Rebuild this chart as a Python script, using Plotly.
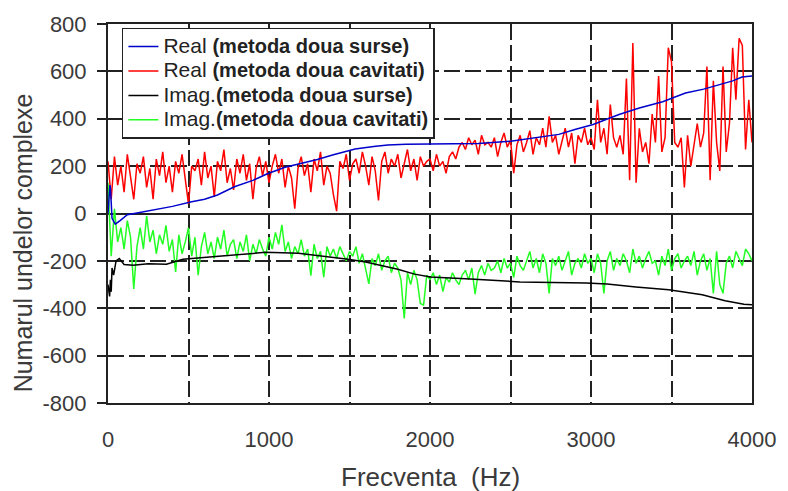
import plotly.graph_objects as go

# ---------------- data ----------------
freq_cav = [i * 20 for i in range(201)]

real_cav = [
    220, 60, 240, 120, 200, 90, 250, 150, 60, 210,
    170, 240, 110, 190, 60, 230, 160, 260, 130, 200,
    90, 220, 170, 250, 140, 40, 200, 180, 230, 120,
    260, 150, 200, 70, 220, 180, 270, 130, 190, 100,
    230, 170, 250, 140, 210, 60, 190, 240, 160, 220,
    130, 200, 250, 170, 230, 110, 200, 150, 20, 190,
    240, 160, 210, 90, 230, 180, 260, 120, 200, 170,
    80, 10, 220, 190, 250, 140, 210, 230, 170, 260,
    200, 120, 240, 180, 55, 220, 260, 170, 230, 200,
    250, 150, 210, 270, 180, 230, 140, 240, 200, 220,
    230, 180, 250, 200, 220, 170, 240, 260, 230, 280,
    300, 270, 320, 290, 310, 250, 330, 290, 300, 280,
    320, 240, 300, 340, 280, 310, 170, 290, 330, 260,
    300, 350, 250, 320, 290, 360, 280, 410, 300, 330,
    250, 310, 360, 280, 340, 210, 330, 300, 360, 290,
    320, 270, 480, 300, 360, 250, 460, 320, 280, 330,
    250, 570, 140, 720, 130, 360, 260, 300, 210, 420,
    300, 580, 260, 320, 700, 640, 300, 280, 320, 110,
    330, 200, 300, 380, 280, 340, 620, 140, 560, 300,
    180, 620, 260, 380, 700, 480, 740, 710, 270, 480,
    300,
]

imag_cav = [
    130, -180, 20, -120, -60, -150, -30, -100, -318, -140,
    -60, -150, -10, -120, -70, -170, -90, -130, -50, -160,
    -110, -247, -90, -170, -120, -60, -180, -100, -260, -140,
    -80, -170, -120, -190, -100, -150, -70, -180, -130, -110,
    -190, -120, -160, -90, -200, -130, -170, -110, -150, -180,
    -100, -150, -80, -130, -48, -160, -120, -190, -140, -170,
    -110, -180, -150, -262, -130, -190, -160, -269, -140, -180,
    -150, -190, -140, -170, -200, -160, -180, -140, -210, -170,
    -230, -297, -190, -220, -170, -240, -200, -180, -250, -210,
    -230, -280, -443, -250, -300, -240, -280, -380, -387, -260,
    -280, -250, -300, -260, -330, -270, -290, -250, -280, -300,
    -260, -240, -280, -230, -340, -250, -220, -260, -210, -240,
    -230, -200, -250, -190, -230, -210, -270, -180, -220, -240,
    -200, -160, -230, -190, -250, -170, -210, -337, -190, -220,
    -180, -240, -200, -160, -260, -210, -190, -230, -170, -210,
    -190, -250, -170, -210, -337, -200, -160, -240, -190, -220,
    -170, -200, -250, -150, -210, -180, -230, -190, -160, -210,
    -200, -260, -180, -220, -150, -240, -190, -170, -230, -200,
    -180, -220, -160, -260, -200, -170, -240, -190, -337, -160,
    -300, -337, -210, -180, -230, -160, -190, -220, -150, -170,
    -200,
]

freq_real_src = [0, 12, 15, 25, 45, 75, 120, 180, 250, 300, 400, 520, 600, 680,
                 785, 900, 990, 1100, 1200, 1300, 1400, 1535, 1650, 1738, 1850,
                 2000, 2150, 2300, 2500, 2650, 2800, 2900, 3013, 3174, 3300,
                 3445, 3587, 3700, 3791, 3880, 3938, 4000]
real_src = [0, 120, 110, -20, -45, -30, -5, 2, 10, 16, 30, 50, 60, 78,
            113, 140, 168, 195, 210, 228, 248, 272, 283, 289, 292,
            293, 294, 296, 305, 318, 334, 355, 376, 418, 445,
            472, 509, 525, 542, 560, 576, 580]

freq_imag_src = [0, 10, 15, 20, 25, 35, 50, 70, 100, 155, 250, 363, 465, 600,
                 770, 978, 1183, 1350, 1491, 1600, 1695, 1800, 1904, 2003,
                 2250, 2558, 2970, 3100, 3279, 3483, 3691, 3833, 3950, 4000]
imag_src = [-300, -350, -280, -330, -230, -260, -200, -190, -215, -218, -212,
            -214, -193, -185, -177, -164, -168, -180, -193, -205, -218, -235,
            -256, -268, -276, -289, -293, -298, -310, -322, -343, -368, -383,
            -385]

series_labels = ["Real ", "Real ", "Imag.", "Imag."]
series_methods = ["(metoda doua surse)", "(metoda doua cavitati)",
                  "(metoda doua surse)", "(metoda doua cavitati)"]
names = [
    "<span style='font-size:21px'>%s</span><b><span style='font-size:20px'>%s</span></b>"
    % (a, b) for a, b in zip(series_labels, series_methods)
]

x_tickvals = [0, 500, 1000, 1500, 2000, 2500, 3000, 3500, 4000]
x_ticktext = ["0", "", "1000", "", "2000", "", "3000", "", "4000"]
y_tickvals = [-800, -600, -400, -200, 0, 200, 400, 600, 800]
y_ticktext = ["-800", "-600", "-400", "-200", "0", "200", "400", "600", "800"]

# ---------------- figure ----------------
fig = go.Figure()
fig.add_trace(go.Scatter(x=freq_cav, y=real_cav, mode="lines", name=names[1],
                         line=dict(color="#ff0000", width=1.5), legendrank=2))
fig.add_trace(go.Scatter(x=freq_cav, y=imag_cav, mode="lines", name=names[3],
                         line=dict(color="#22ff22", width=1.5), legendrank=4))
fig.add_trace(go.Scatter(x=freq_real_src, y=real_src, mode="lines", name=names[0],
                         line=dict(color="#0000cc", width=1.5), legendrank=1))
fig.add_trace(go.Scatter(x=freq_imag_src, y=imag_src, mode="lines", name=names[2],
                         line=dict(color="#000000", width=1.5), legendrank=3))

FONT = "Liberation Sans, Arial, sans-serif"
axis_font = dict(family=FONT, size=22, color="#3a3a3a")

fig.update_layout(
    width=788, height=491,
    margin=dict(l=108, r=31, t=18, b=88),
    paper_bgcolor="white", plot_bgcolor="white",
    font=dict(family=FONT, color="#222"),
    showlegend=True,
    legend=dict(
        x=0.0216, y=0.99, xanchor="left", yanchor="top",
        bgcolor="white", bordercolor="#222", borderwidth=1.5,
        font=dict(family=FONT, size=16.5, color="#222"),
        tracegroupgap=0, itemwidth=30,
    ),
    xaxis=dict(
        range=[0, 4000], tickvals=x_tickvals, ticktext=x_ticktext,
        showline=True, linecolor="#222", linewidth=2, mirror=True,
        ticks="", tickfont=axis_font, ticklabelstandoff=16,
        showgrid=True, gridcolor="#222", gridwidth=1.5, griddash="16px,5px",
        zeroline=False,
    ),
    yaxis=dict(
        range=[-800, 800], tickvals=y_tickvals, ticktext=y_ticktext,
        showline=True, linecolor="#222", linewidth=2, mirror=True,
        ticks="outside", ticklen=9, tickwidth=1.5, tickcolor="#222",
        tickfont=axis_font, ticklabelstandoff=6,
        showgrid=True, gridcolor="#222", gridwidth=1.5, griddash="16px,5px",
        zeroline=True, zerolinecolor="#222", zerolinewidth=1.5,
    ),
    annotations=[
        dict(text="Numarul undelor complexe", xref="paper", yref="paper",
             x=-0.1325, y=0.423, textangle=-90, showarrow=False,
             xanchor="center", yanchor="middle",
             font=dict(family=FONT, size=25, color="#3a3a3a")),
        dict(text="Frecventa\u00a0 (Hz)", xref="paper", yref="paper",
             x=0.5, y=-0.195, showarrow=False, xanchor="center", yanchor="middle",
             font=dict(family=FONT, size=26, color="#3a3a3a")),
    ],
)

fig.write_html("out.html")
